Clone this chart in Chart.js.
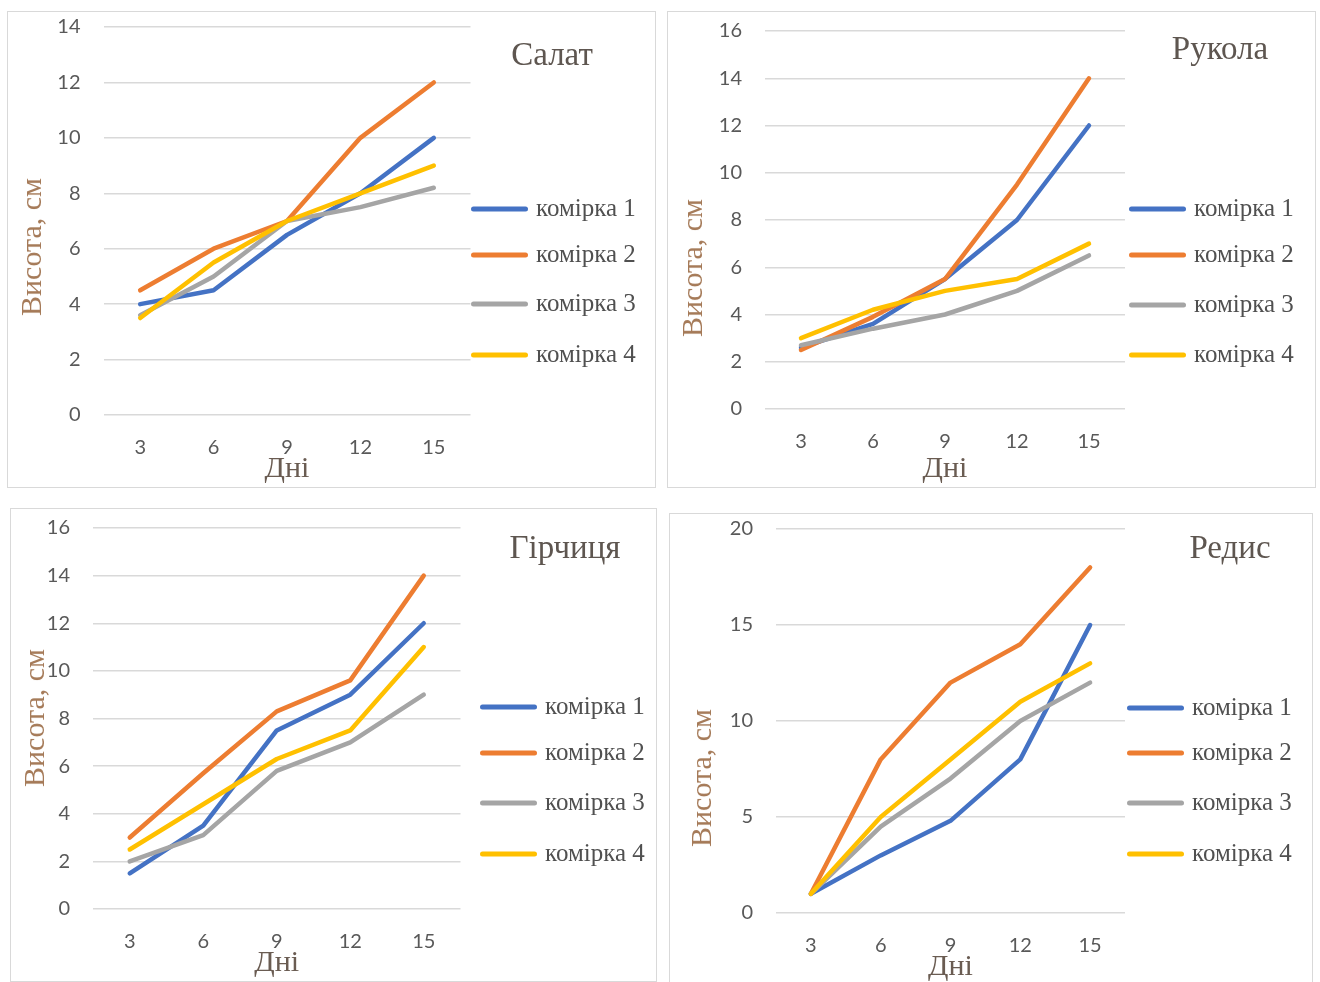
<!DOCTYPE html>
<html lang="uk">
<head>
<meta charset="utf-8">
<title>Висота рослин по днях</title>
<script src="https://cdn.jsdelivr.net/npm/chart.js@4.4.1/dist/chart.umd.min.js"></script>
<style>
  html, body { margin: 0; padding: 0; background: #ffffff; }
  body { width: 1320px; height: 982px; position: relative; overflow: hidden; }
  .panel { position: absolute; box-sizing: border-box; border: 1.5px solid #d9d9d9; background: #fff; }
  .panel canvas { position: absolute; left: 0; top: 0; }
  .crop-title { position: absolute; transform: translate(-50%, -50%); font-family: "Liberation Serif", "Times New Roman", serif;
                font-size: 33px; color: #5e5650; white-space: nowrap; }
  .y-title { position: absolute; transform: translate(-50%, -50%) rotate(-90deg); font-family: "Liberation Serif", "Times New Roman", serif;
             font-size: 30px; color: #a57a58; white-space: nowrap; }
  .legend-item { position: absolute; height: 0; }
  .legend-line { position: absolute; height: 5px; border-radius: 3px; transform: translateY(-50%); }
  .legend-text { position: absolute; transform: translateY(-52%); font-family: "Liberation Serif", "Times New Roman", serif;
                 font-size: 25px; color: #505050; white-space: nowrap; }
</style>
</head>
<body>
<script>
// X axis: days of observation
const days = [3, 6, 9, 12, 15];
const cellNames = ['комірка 1', 'комірка 2', 'комірка 3', 'комірка 4'];
const cropNames = ['Салат', 'Рукола', 'Гірчиця', 'Редис'];
const axisTitleY = 'Висота, см';
const axisTitleX = 'Дні';

// Plant height, cm
const salat1 = [4, 4.5, 6.5, 8, 10];
const salat2 = [4.5, 6, 7, 10, 12];
const salat3 = [3.6, 5, 7, 7.5, 8.2];
const salat4 = [3.5, 5.5, 7, 8, 9];

const rukola1 = [2.6, 3.6, 5.5, 8, 12];
const rukola2 = [2.5, 3.9, 5.5, 9.5, 14];
const rukola3 = [2.7, 3.4, 4, 5, 6.5];
const rukola4 = [3, 4.2, 5, 5.5, 7];

const hirchytsia1 = [1.5, 3.5, 7.5, 9, 12];
const hirchytsia2 = [3, 5.7, 8.3, 9.6, 14];
const hirchytsia3 = [2, 3.1, 5.8, 7, 9];
const hirchytsia4 = [2.5, 4.4, 6.3, 7.5, 11];

const redys1 = [1, 3, 4.8, 8, 15];
const redys2 = [1, 8, 12, 14, 18];
const redys3 = [1, 4.5, 7, 10, 12];
const redys4 = [1, 5, 8, 11, 13];

// Value axis ranges per crop
const yMax = [14, 16, 16, 20];
const yStep = [2, 2, 2, 5];

const cellColors = ['#4472C4', '#ED7D31', '#A5A5A5', '#FFC000'];

const cropSeries = [
  [salat1, salat2, salat3, salat4],
  [rukola1, rukola2, rukola3, rukola4],
  [hirchytsia1, hirchytsia2, hirchytsia3, hirchytsia4],
  [redys1, redys2, redys3, redys4]
];

// Panel geometry (page px): frame box, plot area, titles and legend placement
const panels = [
  { box: [7, 11, 649, 477],    plot: [102.5, 26, 469.5, 414], title: [551, 53],   yTitle: [30, 246],  legendX: 470,  legendY: [208, 254, 303, 354] },
  { box: [667, 11, 649, 477],  plot: [764, 30, 1124, 408],    title: [1219, 47],  yTitle: [691, 267], legendX: 1128, legendY: [208, 254, 304, 354] },
  { box: [10, 508, 647, 474],  plot: [92, 527, 459.5, 908],   title: [564, 546],  yTitle: [33, 717],  legendX: 479,  legendY: [706, 752, 802, 853] },
  { box: [669, 513, 644, 473], plot: [775, 528, 1124, 912],   title: [1229, 546], yTitle: [700, 777], legendX: 1126, legendY: [707, 752, 802, 853] }
];

const tickFont = { family: 'Lato, "Open Sans", sans-serif', size: 20 };
const titleFont = { family: '"Liberation Serif", "Times New Roman", serif', size: 30 };

panels.forEach((p, idx) => {
  const [bx, by, bw, bh] = p.box;
  const [pl, pt, pr, pb] = p.plot;

  const div = document.createElement('div');
  div.className = 'panel';
  div.style.left = bx + 'px';
  div.style.top = by + 'px';
  div.style.width = bw + 'px';
  div.style.height = bh + 'px';
  document.body.appendChild(div);

  const canvas = document.createElement('canvas');
  canvas.width = bw;
  canvas.height = bh;
  canvas.style.width = bw + 'px';
  canvas.style.height = bh + 'px';
  div.appendChild(canvas);

  const yWidth = pl - bx;
  const xHeight = (by + bh) - pb;

  new Chart(canvas.getContext('2d'), {
    type: 'line',
    data: {
      labels: days,
      datasets: cropSeries[idx].map((vals, i) => ({
        label: cellNames[i],
        data: vals,
        borderColor: cellColors[i],
        backgroundColor: cellColors[i],
        borderWidth: 4.5,
        borderCapStyle: 'round',
        borderJoinStyle: 'round',
        pointRadius: 0,
        pointHoverRadius: 0,
        tension: 0,
        fill: false,
        order: cellNames.length - i
      }))
    },
    options: {
      responsive: false,
      animation: false,
      events: [],
      layout: { padding: { left: 0, top: pt - by, right: (bx + bw) - pr, bottom: 0 } },
      plugins: { legend: { display: false }, tooltip: { enabled: false }, title: { display: false } },
      scales: {
        x: {
          type: 'category',
          offset: true,
          grid: { display: false, drawTicks: false },
          border: { display: false },
          ticks: { color: '#595959', font: tickFont, padding: 21, maxRotation: 0 },
          title: { display: true, text: axisTitleX, color: '#6a5c52', font: titleFont, padding: { top: 0, bottom: 2 } },
          afterFit: (scale) => { scale.height = xHeight; }
        },
        y: {
          min: 0,
          max: yMax[idx],
          grid: { color: '#d9d9d9', lineWidth: 1.5, drawTicks: false },
          border: { display: false },
          ticks: { stepSize: yStep[idx], color: '#595959', font: tickFont, padding: 23 },
          // fixed axis width; the layout padding alone sets the plot top
          afterFit: (scale) => { scale.width = yWidth; scale.paddingTop = 0; scale.paddingBottom = 0; }
        }
      }
    }
  });

  // Value axis title
  const yt = document.createElement('div');
  yt.className = 'y-title';
  yt.textContent = axisTitleY;
  yt.style.left = (p.yTitle[0] - bx) + 'px';
  yt.style.top = (p.yTitle[1] - by) + 'px';
  div.appendChild(yt);

  // Crop name
  const t = document.createElement('div');
  t.className = 'crop-title';
  t.textContent = cropNames[idx];
  t.style.left = (p.title[0] - bx) + 'px';
  t.style.top = (p.title[1] - by) + 'px';
  div.appendChild(t);

  // Legend built from the series names and colours
  cellNames.forEach((name, i) => {
    const item = document.createElement('div');
    item.className = 'legend-item';
    item.style.left = (p.legendX - bx) + 'px';
    item.style.top = (p.legendY[i] - by) + 'px';
    const line = document.createElement('div');
    line.className = 'legend-line';
    line.style.left = '0px';
    line.style.width = '57px';
    line.style.background = cellColors[i];
    const txt = document.createElement('div');
    txt.className = 'legend-text';
    txt.style.left = '65px';
    txt.textContent = name;
    item.appendChild(line);
    item.appendChild(txt);
    div.appendChild(item);
  });
});
</script>
</body>
</html>
